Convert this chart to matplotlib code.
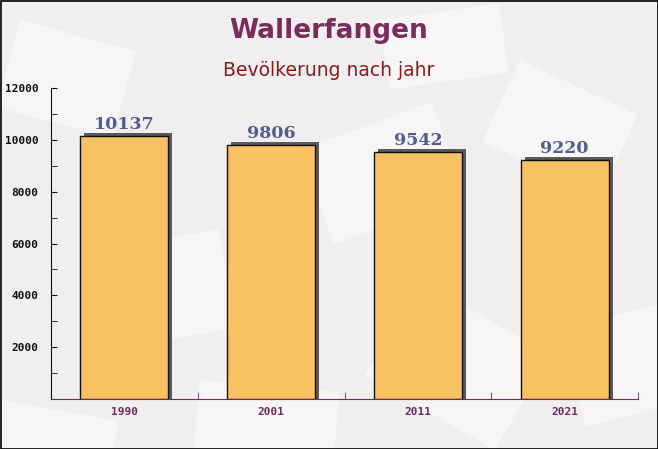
import matplotlib
matplotlib.use("Agg")
import matplotlib.pyplot as plt
from matplotlib.patches import Rectangle
import numpy as np

years = ["1990", "2001", "2011", "2021"]
population = [10137, 9806, 9542, 9220]
yticks = [2000, 4000, 6000, 8000, 10000, 12000]

W, H = 658, 449
fig = plt.figure(figsize=(W / 100, H / 100), dpi=100)
fig.patch.set_facecolor("#f1eef0")

# decorative background shapes (envelope-like light rectangles)
bg = fig.add_axes([0, 0, 1, 1], zorder=-10)
bg.set_xlim(0, W); bg.set_ylim(H, 0); bg.axis("off")
shapes = [(20, 20, 120, 90, 15), (300, 150, 140, 100, -20), (520, 60, 130, 90, 25),
          (100, 250, 120, 100, -10), (420, 280, 150, 110, 30), (200, 380, 140, 90, 5),
          (560, 330, 110, 100, -15), (0, 400, 120, 80, 10), (380, 20, 120, 70, -8)]
for x0, y0, w, h, a in shapes:
    bg.add_patch(Rectangle((x0, y0), w, h, angle=a, facecolor="white", alpha=0.45,
                           edgecolor="none"))
bg.add_patch(Rectangle((0.5, 0.5), W - 1, H - 1, fill=False, edgecolor="black", lw=1.2))

ax = fig.add_axes([51 / W, 1 - 399 / H, 587 / W, 311 / H])
ax.set_facecolor("none")
x = np.arange(len(years))
bw = 0.6
dx = 4 / 146.75      # shadow offset in data units (x)
dy = 3 * 12000 / 311  # shadow offset in data units (y)
for xi, p in zip(x, population):
    ax.add_patch(Rectangle((xi - bw / 2 + dx, 0), bw, p + dy, facecolor="#5a5a5a",
                           edgecolor="none", zorder=1))
ax.bar(x, population, width=bw, color="#f8c263", edgecolor="#111111",
       linewidth=1.0, zorder=2)
for xi, p in zip(x, population):
    ax.text(xi, p + 120, f"{p}", ha="center", va="bottom", family="DejaVu Serif",
            fontweight="bold", fontsize=12.5, color="#555b8c", zorder=3)

ax.set_xlim(-0.5, len(years) - 0.5)
ax.set_ylim(0, 12000)
ax.set_yticks(yticks)
ax.set_yticks(range(1000, 12000, 2000), minor=True)
ax.set_yticklabels([str(t) for t in yticks], family="DejaVu Sans Mono",
                   fontweight="bold", fontsize=8, color="#111111")
ax.set_xticks(x)
ax.set_xticklabels(years, family="DejaVu Sans Mono", fontweight="bold", fontsize=8,
                   color="#6b2d52")
ax.set_xticks(np.arange(1, len(years) + 1) - 0.5, minor=True)
ax.tick_params(axis="x", which="major", length=0, pad=6)
ax.tick_params(axis="x", which="minor", length=5, direction="in", color="#6b2d52")
ax.tick_params(axis="y", which="both", length=4, direction="in", color="#111111", pad=9)
for s in ["top", "right"]:
    ax.spines[s].set_visible(False)
ax.spines["left"].set_color("#111111")
ax.spines["bottom"].set_color("#6b2d52")

fig.text(0.5, 1 - 31 / H, "Wallerfangen", ha="center", va="center", fontsize=19,
         fontweight="bold", color="#7a2d5a")
fig.text(0.5, 1 - 70 / H, "Bevölkerung nach jahr", ha="center", va="center",
         fontsize=13.5, color="#8b1a1a")

fig.savefig("out.png", dpi=100, facecolor=fig.get_facecolor())
